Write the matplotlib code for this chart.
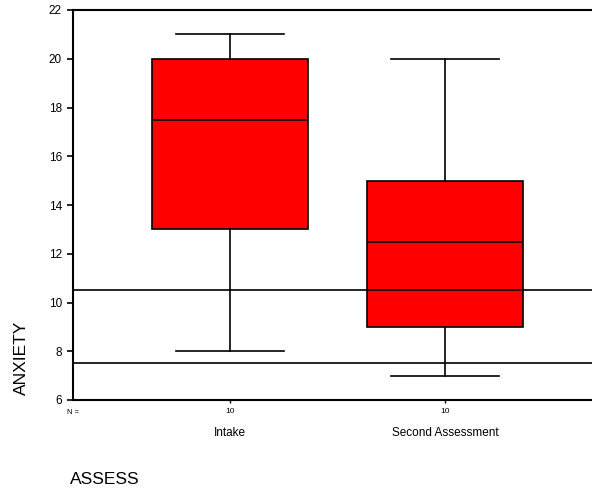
import matplotlib.pyplot as plt
from matplotlib.transforms import blended_transform_factory

plt.rcParams['font.family'] = ['Liberation Sans', 'DejaVu Sans']

# per-group summary of ANXIETY scores
groups = ['Intake', 'Second Assessment']
n_cases = [10, 10]
whisker_low = [8, 7]
q1 = [13, 9]
median = [17.5, 12.5]
q3 = [20, 15]
whisker_high = [21, 20]

# reference lines
ref_lines = [10.5, 7.5]

y_ticks = [6, 8, 10, 12, 14, 16, 18, 20, 22]

fig = plt.figure(figsize=(5.92, 4.88), dpi=100)
ax = fig.add_axes([73 / 592, 88 / 488, 529 / 592, 390 / 488])

stats = []
for i, g in enumerate(groups):
    stats.append(dict(label=g, whislo=whisker_low[i], q1=q1[i], med=median[i],
                      q3=q3[i], whishi=whisker_high[i], fliers=[]))

pos = list(range(1, len(groups) + 1))
ax.bxp(stats, positions=pos, widths=0.726, patch_artist=True, showfliers=False,
       boxprops=dict(facecolor='#ff0000', edgecolor='black', linewidth=1.2),
       medianprops=dict(color='black', linewidth=1.2),
       whiskerprops=dict(color='black', linewidth=1.2),
       capprops=dict(color='black', linewidth=1.2),
       capwidths=0.5)

for y in ref_lines:
    ax.axhline(y, color='black', linewidth=1.2, zorder=3)

ax.set_xlim(0.27, 2.73)
ax.set_ylim(6, 22)
ax.set_yticks(y_ticks)
ax.set_yticklabels([str(t) for t in y_ticks], fontsize=8.5)
ax.tick_params(axis='y', length=4, width=1.2, pad=4)

ax.set_xticks(pos)
ax.set_xticklabels([str(n) for n in n_cases], fontsize=6)
ax.tick_params(axis='x', length=2, width=1, pad=4)

for s in ax.spines.values():
    s.set_linewidth(1.5)
ax.spines['right'].set_visible(False)

tr = blended_transform_factory(ax.transData, fig.transFigure)
for p, g in zip(pos, groups):
    ax.text(p, 1 - 433 / 488, g, transform=tr, ha='center', va='center', fontsize=8.5)
ax.text(0.27, 1 - 412 / 488, 'N =', transform=tr, ha='center', va='center', fontsize=5.5)

fig.text(21 / 592, 1 - 358 / 488, 'ANXIETY', rotation=90, ha='center', va='center',
         fontsize=12.5)
fig.text(70 / 592, 1 - 479 / 488, 'ASSESS', ha='left', va='center', fontsize=12.5)

fig.savefig('out.png', dpi=100)
